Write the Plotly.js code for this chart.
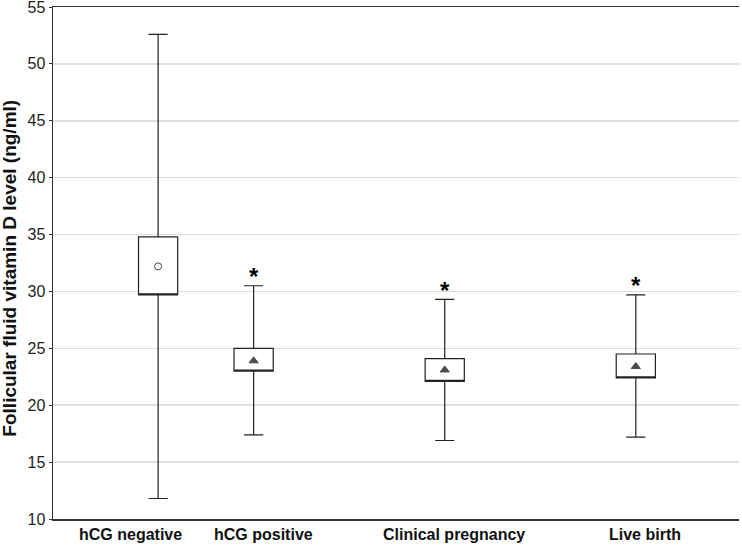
<!DOCTYPE html>
<html>
<head>
<meta charset="utf-8">
<script src="https://cdn.plot.ly/plotly-3.0.1.min.js"></script>
<style>html,body{margin:0;padding:0;background:#fff;}#chart{width:742px;height:547px;}</style>
</head>
<body>
<div id="chart"></div>
<script>
// Data
const categories = ["hCG negative", "hCG positive", "Clinical pregnancy", "Live birth"];
const positions = [0, 1, 3, 5];
const whiskerLow = [11.8, 17.4, 16.9, 17.2];
const boxLow = [29.7, 23.0, 22.1, 22.4];
const boxHigh = [34.8, 25.0, 24.1, 24.5];
const whiskerHigh = [52.6, 30.5, 29.3, 29.7];
const centerValue = [32.2, 23.9, 23.1, 23.4];
const significant = [false, true, true, true];
const yTicks = [10, 15, 20, 25, 30, 35, 40, 45, 50, 55];
const yTitle = "Follicular fluid vitamin D level (ng/ml)";

// Styles
const markerSymbols = ["circle-open", "triangle-up", "triangle-up", "triangle-up"];
const markerSizes = [7, 8, 8, 8];
const labelShift = [-28, 10, 9, 9];
const font = "Liberation Sans, Arial, sans-serif";

const traces = [
  {
    type: "box",
    x: positions,
    q1: boxLow,
    median: boxLow,
    q3: boxHigh,
    lowerfence: whiskerLow,
    upperfence: whiskerHigh,
    width: 0.41,
    whiskerwidth: 0.49,
    fillcolor: "#ffffff",
    line: { color: "#222222", width: 1.2 },
    boxpoints: false,
    hoverinfo: "skip",
    showlegend: false
  },
  {
    type: "scatter",
    mode: "markers",
    x: positions,
    y: centerValue,
    marker: {
      symbol: markerSymbols,
      size: markerSizes,
      color: "#000000",
      line: { color: "#000000", width: 1 }
    },
    showlegend: false,
    hoverinfo: "skip"
  }
];

const annotations = [];
categories.forEach((c, i) => {
  annotations.push({
    xref: "x", yref: "paper",
    x: positions[i], y: 0,
    yanchor: "top", xanchor: "center",
    yshift: -5, xshift: labelShift[i],
    text: "<b>" + c + "</b>", showarrow: false,
    font: { family: font, size: 16, color: "#111" }
  });
  if (significant[i]) {
    annotations.push({
      xref: "x", yref: "y",
      x: positions[i], y: whiskerHigh[i],
      yanchor: "middle", xanchor: "center",
      yshift: 9,
      text: "<b>*</b>", showarrow: false,
      font: { family: font, size: 24, color: "#000" }
    });
  }
});
annotations.push({
  xref: "paper", yref: "paper",
  x: 0, y: 0.489,
  xanchor: "center", yanchor: "middle",
  xshift: -43,
  textangle: -90,
  text: "<b>" + yTitle + "</b>", showarrow: false,
  font: { family: font, size: 19, color: "#111" }
});

const layout = {
  width: 742,
  height: 547,
  margin: { l: 53, r: 3, t: 7, b: 28 },
  paper_bgcolor: "#ffffff",
  plot_bgcolor: "#ffffff",
  font: { family: font, color: "#222" },
  showlegend: false,
  xaxis: {
    range: [-1.1, 6.08],
    showticklabels: false,
    ticks: "",
    showgrid: false,
    zeroline: false,
    showline: true,
    linecolor: "#333",
    linewidth: 1.5,
    mirror: true
  },
  yaxis: {
    range: [10, 55],
    tickmode: "array",
    tickvals: yTicks,
    ticktext: yTicks.map(String),
    ticklabeloverflow: "allow",
    ticks: "outside",
    ticklen: 3,
    tickcolor: "#333",
    showgrid: true,
    gridcolor: "#dedede",
    gridwidth: 1.5,
    zeroline: false,
    showline: true,
    linecolor: "#333",
    linewidth: 1.5,
    tickfont: { family: font, size: 16, color: "#222" }
  },
  yaxis2: {
    overlaying: "y",
    side: "right",
    range: [10, 55],
    tickmode: "array",
    tickvals: yTicks,
    ticks: "inside",
    ticklen: 3,
    tickcolor: "#444",
    showticklabels: false,
    showgrid: false,
    zeroline: false,
    showline: true,
    linecolor: "#555",
    linewidth: 2
  },
  annotations: annotations
};

Plotly.newPlot("chart", traces, layout, { staticPlot: true, displayModeBar: false });
</script>
</body>
</html>
